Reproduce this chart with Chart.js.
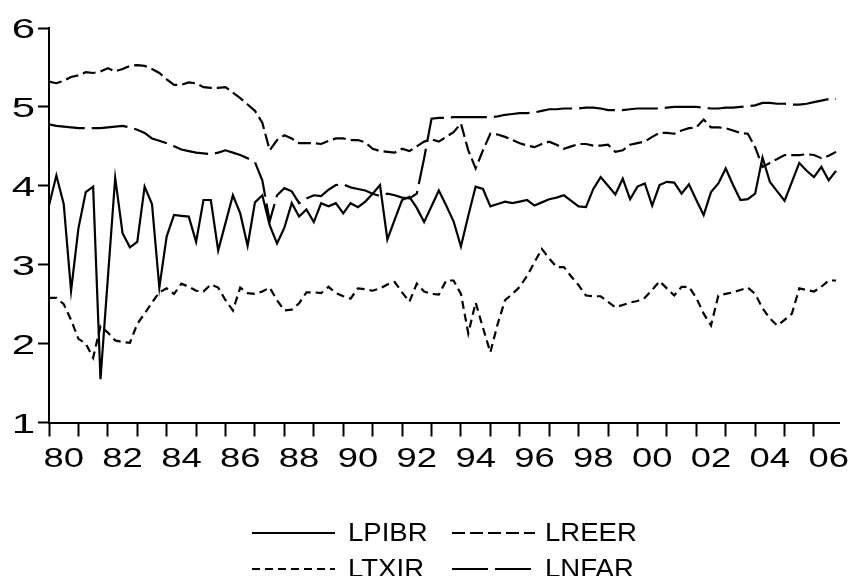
<!DOCTYPE html>
<html>
<head>
<meta charset="utf-8">
<script src="https://cdn.jsdelivr.net/npm/chart.js@4.4.1/dist/chart.umd.min.js"></script>
<style>
html,body{margin:0;padding:0;background:#ffffff;}
#wrap{width:850px;height:576px;position:relative;}
</style>
</head>
<body>
<div id="wrap"><canvas id="chart" width="850" height="576"></canvas></div>
<script>
// Quarterly periods 1980Q1 .. 2006Q4
const periods = [];
for (let y = 1980; y <= 2006; y++) for (let q = 1; q <= 4; q++) periods.push(y + 'Q' + q);

// Tick labels (centred on the middle of every second year)
const xTickLabels = ['80','82','84','86','88','90','92','94','96','98','00','02','04','06'];
const yTickValues = [1, 2, 3, 4, 5, 6];

const seriesNames = ['LPIBR', 'LREER', 'LTXIR', 'LNFAR'];

const LPIBR = [
  3.75,4.13,3.77,2.67, 3.46,3.92,3.99,1.55, 2.83,4.10,3.40,3.22, 3.29,3.99,3.77,2.71,
  3.36,3.63,3.62,3.61, 3.29,3.82,3.82,3.18, 3.53,3.88,3.65,3.24, 3.79,3.88,3.50,3.27,
  3.47,3.78,3.61,3.70, 3.54,3.78,3.74,3.78, 3.65,3.78,3.73,3.80, 3.90,4.01,3.32,3.57,
  3.82,3.86,3.72,3.54, 3.74,3.94,3.75,3.55, 3.23,3.62,3.99,3.96, 3.74,3.77,3.80,3.78,
  3.80,3.82,3.75,3.79, 3.83,3.85,3.88,3.81, 3.74,3.73,3.96,4.11, 4.00,3.89,4.09,3.83,
  3.99,4.03,3.75,4.01, 4.05,4.04,3.90,4.02, 3.82,3.63,3.92,4.03, 4.22,4.01,3.82,3.83,
  3.90,4.36,4.05,3.93, 3.81,4.05,4.29,4.19, 4.11,4.24,4.07,4.19
];

const LREER = [
  5.32,5.30,5.33,5.38, 5.40,5.44,5.43,5.45, 5.49,5.45,5.48,5.52, 5.53,5.52,5.48,5.43,
  5.35,5.28,5.28,5.31, 5.30,5.25,5.24,5.24, 5.25,5.18,5.11,5.03, 4.95,4.80,4.45,4.58,
  4.64,4.60,4.54,4.54, 4.54,4.53,4.57,4.60, 4.60,4.58,4.58,4.55, 4.47,4.44,4.43,4.42,
  4.47,4.44,4.50,4.56, 4.59,4.56,4.62,4.68, 4.79,4.45,4.22,4.45, 4.66,4.65,4.62,4.58,
  4.54,4.51,4.49,4.53, 4.56,4.52,4.47,4.50, 4.53,4.53,4.51,4.51, 4.52,4.43,4.45,4.52,
  4.54,4.56,4.62,4.67, 4.67,4.66,4.70,4.73, 4.74,4.84,4.74,4.74, 4.73,4.70,4.67,4.66,
  4.49,4.24,4.29,4.34, 4.39,4.39,4.39,4.40, 4.39,4.35,4.38,4.43
];

const LTXIR = [
  2.58,2.58,2.50,2.30, 2.06,2.00,1.82,2.22, 2.14,2.04,2.02,2.01, 2.25,2.38,2.52,2.65,
  2.70,2.63,2.76,2.72, 2.67,2.66,2.75,2.71, 2.55,2.42,2.71,2.64, 2.63,2.66,2.71,2.55,
  2.42,2.43,2.51,2.65, 2.65,2.64,2.72,2.64, 2.60,2.57,2.70,2.69, 2.67,2.70,2.75,2.78,
  2.65,2.53,2.76,2.66, 2.63,2.62,2.80,2.80, 2.63,2.13,2.52,2.20, 1.89,2.25,2.55,2.63,
  2.72,2.86,3.03,3.20, 3.08,2.97,2.97,2.85, 2.74,2.61,2.60,2.60, 2.53,2.46,2.49,2.52,
  2.54,2.58,2.68,2.79, 2.70,2.61,2.72,2.72, 2.58,2.38,2.23,2.61, 2.63,2.65,2.68,2.71,
  2.63,2.45,2.32,2.23, 2.30,2.38,2.70,2.68, 2.66,2.72,2.80,2.80
];

const LNFAR = [
  4.78,4.76,4.75,4.74, 4.73,4.73,4.73,4.73, 4.74,4.75,4.76,4.74, 4.71,4.67,4.60,4.57,
  4.54,4.50,4.46,4.44, 4.42,4.41,4.40,4.42, 4.45,4.42,4.39,4.35, 4.30,4.07,3.55,3.88,
  3.97,3.93,3.78,3.84, 3.88,3.87,3.95,4.01, 4.02,3.98,3.96,3.94, 3.90,3.87,3.90,3.88,
  3.85,3.84,3.90,4.35, 4.85,4.86,4.86,4.87, 4.87,4.87,4.87,4.87, 4.87,4.88,4.90,4.91,
  4.92,4.92,4.93,4.95, 4.97,4.97,4.98,4.98, 4.98,4.99,4.99,4.98, 4.96,4.96,4.96,4.97,
  4.98,4.98,4.98,4.98, 4.99,5.00,5.00,5.00, 5.00,4.99,4.98,4.98, 4.99,4.99,5.00,5.01,
  5.02,5.05,5.05,5.04, 5.04,5.03,5.03,5.04, 5.06,5.08,5.10,5.10
];

const seriesValues = [LPIBR, LREER, LTXIR, LNFAR];
const seriesDashes = [[], [13, 5], [8, 5], [36, 7]];

const FONT = '"Liberation Sans", Arial, Helvetica, sans-serif';
const TICK_SIZE = 28;

const toPoints = vals => vals.map((v, i) => ({ x: i, y: v }));

// Tick labels are drawn horizontally widened, as in the EViews export
const wideTickLabels = {
  id: 'wideTickLabels',
  afterDraw(chart) {
    const ctx = chart.ctx;
    const xs = chart.scales.x, ys = chart.scales.y;
    const capH = 0.716 * TICK_SIZE;
    ctx.save();
    ctx.fillStyle = '#000';
    ctx.font = TICK_SIZE + 'px ' + FONT;
    ctx.textBaseline = 'alphabetic';
    // x labels
    ctx.textAlign = 'center';
    xTickLabels.forEach((lab, k) => {
      const px = xs.getPixelForValue(2 + 8 * k);
      ctx.save();
      ctx.translate(px, xs.top + 24.5 + capH);
      ctx.scale(1.3, 1);
      ctx.fillText(lab, 0, 0);
      ctx.restore();
    });
    // y labels
    ctx.textAlign = 'right';
    yTickValues.forEach(v => {
      const py = ys.getPixelForValue(v);
      ctx.save();
      ctx.translate(35, py + capH / 2);
      ctx.scale(1.5, 1);
      ctx.fillText(String(v), 0, 0);
      ctx.restore();
    });
    ctx.restore();
  }
};

const gridLegend = {
  id: 'gridLegend',
  afterDraw(chart) {
    const ctx = chart.ctx;
    const cols = [{ lx: 252, tx: 348 }, { lx: 452, tx: 545 }];
    const rows = [533, 569];
    ctx.save();
    ctx.font = '26px ' + FONT;
    ctx.textBaseline = 'middle';
    ctx.textAlign = 'left';
    ctx.fillStyle = '#000';
    chart.data.datasets.forEach((d, i) => {
      const c = cols[i % 2];
      const y = rows[Math.floor(i / 2)];
      ctx.beginPath();
      ctx.setLineDash(d.borderDash || []);
      ctx.lineWidth = d.borderWidth;
      ctx.strokeStyle = d.borderColor;
      ctx.moveTo(c.lx, y);
      ctx.lineTo(c.lx + 83, y);
      ctx.stroke();
      ctx.setLineDash([]);
      ctx.save();
      ctx.translate(c.tx, y + 1);
      ctx.scale(1.06, 1);
      ctx.fillText(d.label, 0, 0);
      ctx.restore();
    });
    ctx.restore();
  }
};

new Chart(document.getElementById('chart'), {
  type: 'line',
  data: {
    datasets: seriesNames.map((name, k) => ({
      label: name,
      data: toPoints(seriesValues[k]),
      borderColor: '#000',
      backgroundColor: '#000',
      borderWidth: 2.2,
      borderDash: seriesDashes[k],
      pointRadius: 0,
      tension: 0,
      fill: false
    }))
  },
  options: {
    responsive: false,
    animation: false,
    layout: { padding: { top: 28, right: 11, bottom: 103.5, left: 0 } },
    plugins: {
      legend: { display: false },
      tooltip: { enabled: false }
    },
    scales: {
      x: {
        type: 'linear',
        min: 0,
        max: 107.4,
        afterBuildTicks: s => {
          const t = [];
          for (let v = 0; v <= 106; v += 2) t.push({ value: v });
          s.ticks = t;
        },
        afterFit: s => { s.height = 50; },
        ticks: {
          display: false,
          autoSkip: false,
          maxRotation: 0,
          minRotation: 0,
          callback: v => (v % 8 === 2) ? xTickLabels[(v - 2) / 8] : ''
        },
        grid: {
          display: true,
          drawOnChartArea: false,
          drawTicks: true,
          tickLength: 14,
          tickWidth: 2,
          tickColor: c => (c.tick && c.tick.value % 4 === 0) ? '#000' : 'rgba(0,0,0,0)'
        },
        border: { display: true, color: '#000', width: 2 }
      },
      y: {
        min: 1,
        max: 6,
        afterBuildTicks: s => { s.ticks = yTickValues.map(v => ({ value: v })); },
        afterFit: s => { s.width = 49; },
        ticks: {
          display: false,
          callback: v => String(v)
        },
        grid: {
          display: true,
          drawOnChartArea: false,
          drawTicks: true,
          tickLength: 11,
          tickWidth: 2,
          tickColor: '#000'
        },
        border: { display: true, color: '#000', width: 2 }
      }
    }
  },
  plugins: [wideTickLabels, gridLegend]
});
</script>
</body>
</html>
